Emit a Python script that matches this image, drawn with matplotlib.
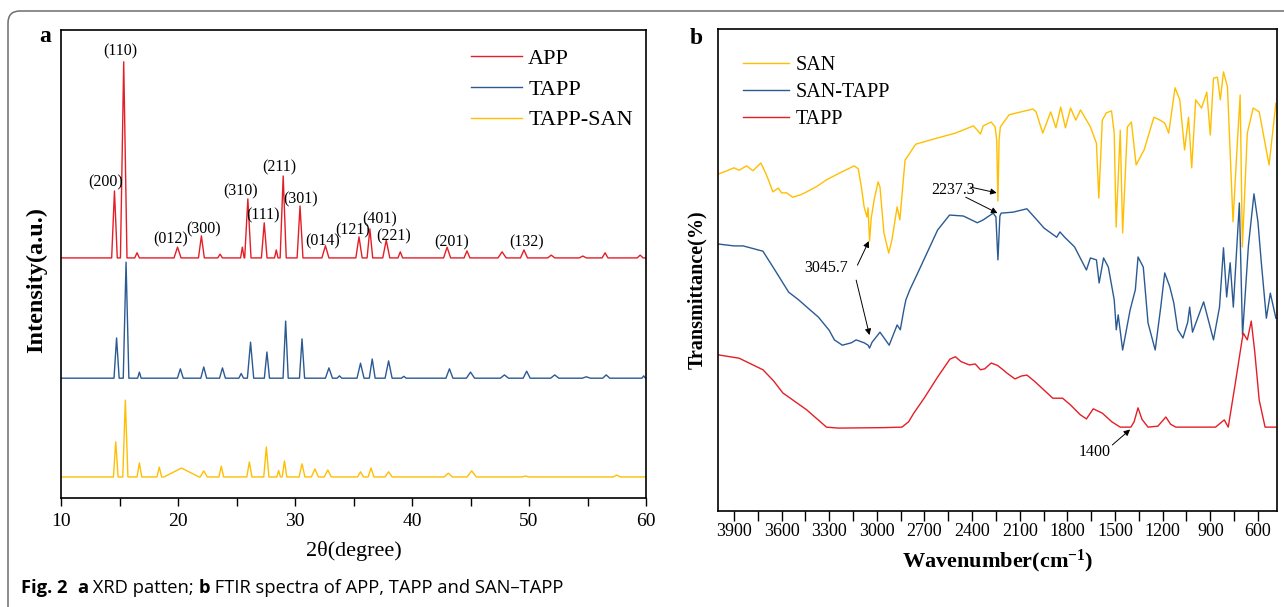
import numpy as np
import matplotlib
matplotlib.use('Agg')
import matplotlib.pyplot as plt
from matplotlib.ticker import MultipleLocator, NullLocator
from matplotlib.patches import FancyBboxPatch
from matplotlib.transforms import IdentityTransform

plt.rcParams['font.family'] = 'Liberation Serif'
plt.rcParams['mathtext.fontset'] = 'custom'
plt.rcParams['mathtext.rm'] = 'Liberation Serif'
plt.rcParams['mathtext.bf'] = 'Liberation Serif:bold'
plt.rcParams['mathtext.it'] = 'Liberation Serif:italic'

myred = '#E41E26'
myblue = '#2B5A92'
myyellow = '#FFBF00'

W, H = 1284, 607

# ---- XRD peaks: position (2theta), apex intensity (a.u.), half width at foot
app_base = 51.3
app_pos = [14.57, 15.36, 16.5, 19.96, 22.0, 23.6, 25.5, 25.97, 27.37, 28.4, 28.99, 30.43,
           32.6, 35.47, 36.4, 37.8, 39.0, 43.0, 44.7, 47.7, 49.57, 51.9, 54.6, 56.5, 59.5]
app_top = [65.6, 93.2, 52.4, 53.6, 56.0, 52.1, 53.6, 63.9, 58.8, 53.0, 68.8, 62.4,
           53.9, 55.8, 57.5, 55.1, 52.6, 53.6, 52.8, 52.6, 53.0, 51.9, 51.7, 52.4, 51.9]
app_hw = [0.24, 0.28, 0.2, 0.3, 0.25, 0.2, 0.15, 0.27, 0.24, 0.15, 0.26, 0.25,
          0.3, 0.27, 0.24, 0.3, 0.2, 0.3, 0.25, 0.35, 0.3, 0.3, 0.3, 0.25, 0.25]

tapp_base = 25.6
tapp_pos = [14.75, 15.56, 16.7, 20.2, 22.2, 23.8, 25.4, 26.2, 27.6, 29.2, 30.6, 32.9,
            33.8, 35.6, 36.6, 38.0, 39.3, 43.2, 45.0, 47.9, 49.8, 52.2, 54.9, 56.6, 59.8]
tapp_top = [34.2, 50.4, 26.9, 27.6, 28.0, 27.8, 26.6, 33.3, 31.2, 37.8, 34.0, 27.8,
            26.1, 28.8, 29.7, 29.3, 26.0, 27.6, 26.9, 26.3, 27.1, 26.3, 25.9, 26.3, 26.1]
tapp_hw = [0.22, 0.24, 0.15, 0.25, 0.25, 0.25, 0.2, 0.27, 0.22, 0.22, 0.22, 0.3,
           0.2, 0.3, 0.25, 0.3, 0.2, 0.3, 0.35, 0.35, 0.3, 0.35, 0.35, 0.3, 0.15]

tsan_base = 4.5
tsan_pos = [14.68, 15.5, 16.7, 18.4, 20.3, 22.2, 23.7, 26.1, 27.55, 28.6, 29.1, 30.6,
            31.7, 32.8, 35.6, 36.5, 38.0, 43.1, 45.1, 49.7, 57.5]
tsan_top = [12.0, 20.9, 7.5, 6.6, 6.4, 5.8, 6.8, 7.7, 10.9, 5.9, 7.9, 7.3,
            6.2, 6.0, 5.6, 6.4, 5.6, 5.3, 5.8, 4.7, 4.9]
tsan_hw = [0.2, 0.22, 0.2, 0.2, 1.5, 0.3, 0.2, 0.22, 0.22, 0.15, 0.2, 0.25,
           0.3, 0.3, 0.25, 0.25, 0.3, 0.35, 0.4, 0.3, 0.3]

hkl_text = ['(110)', '(200)', '(012)', '(300)', '(310)', '(111)', '(211)', '(301)',
            '(014)', '(121)', '(401)', '(221)', '(201)', '(132)']
hkl_x = [15.04, 13.85, 19.35, 22.16, 25.36, 27.27, 28.7, 30.5, 32.37, 34.95, 37.2, 38.4, 43.35, 49.75]
hkl_y = [95.5, 67.5, 55.3, 57.5, 65.6, 60.3, 70.7, 63.9, 54.9, 57.1, 59.6, 56.0, 54.7, 54.7]

# ---- FTIR spectra: wavenumber (cm-1), transmittance
san_wn = [4000, 3950, 3900, 3867, 3820, 3780, 3730, 3700, 3680, 3655, 3620, 3600, 3567, 3530,
          3480, 3442, 3380, 3317, 3230, 3142, 3117, 3097, 3080, 3062, 3055, 3045.7, 3035, 3017,
          2992, 2980, 2955, 2925, 2905, 2872, 2855, 2837, 2822, 2755, 2617, 2505, 2392, 2367,
          2347, 2330, 2280, 2255, 2245, 2237.3, 2230, 2222, 2167, 2017, 1997, 1955, 1905, 1872,
          1842, 1812, 1780, 1747, 1717, 1655, 1617, 1602, 1580, 1555, 1522, 1505, 1493, 1467,
          1452, 1422, 1397, 1367, 1317, 1255, 1217, 1187, 1162, 1122, 1092, 1062, 1037, 1017,
          992, 955, 922, 900, 880, 855, 837, 817, 792, 757, 730, 712, 698, 667, 630, 592, 530, 487]
san_t = [69.9, 70.5, 71.2, 70.7, 71.6, 70.6, 72.2, 70.1, 68.5, 66.2, 67.0, 66.0, 66.0, 65.1,
         65.6, 66.2, 67.3, 68.7, 70.2, 71.6, 71.0, 67.2, 63.1, 61.0, 62.9, 56.0, 60.8, 64.5,
         68.3, 67.2, 57.7, 53.5, 56.2, 63.1, 60.4, 67.2, 72.8, 76.1, 77.4, 78.4, 79.9, 79.0,
         78.2, 79.9, 80.7, 79.7, 77.0, 64.3, 77.0, 79.7, 82.2, 83.4, 82.8, 78.4, 82.8, 79.5,
         83.8, 79.5, 83.6, 81.1, 83.2, 79.7, 76.3, 64.9, 81.1, 82.6, 83.0, 78.4, 58.9, 79.0,
         57.7, 79.7, 80.7, 71.8, 74.9, 81.7, 81.1, 80.5, 78.4, 87.8, 85.3, 74.9, 81.7, 71.2,
         85.3, 83.6, 86.9, 78.0, 89.8, 90.0, 85.3, 91.1, 88.0, 60.0, 76.3, 86.3, 54.8, 78.4,
         83.6, 82.8, 71.8, 84.6]

santapp_wn = [4000, 3900, 3842, 3717, 3642, 3555, 3492, 3430, 3367, 3300, 3267, 3217, 3160,
              3130, 3080, 3055, 3045.7, 3030, 2980, 2922, 2872, 2852, 2830, 2817, 2792, 2742,
              2617, 2542, 2455, 2367, 2330, 2267, 2250, 2237.3, 2225, 2217, 2142, 2055, 1992,
              1947, 1905, 1867, 1847, 1817, 1755, 1680, 1655, 1617, 1600, 1572, 1542, 1505,
              1492, 1480, 1452, 1405, 1372, 1355, 1322, 1292, 1247, 1212, 1187, 1155, 1130,
              1105, 1072, 1042, 1030, 1012, 942, 880, 842, 817, 797, 775, 755, 717, 697, 660,
              625, 600, 580, 547, 522, 487]
santapp_t = [55.4, 55.0, 55.0, 53.9, 50.0, 45.4, 43.8, 42.0, 40.2, 37.5, 35.5, 34.4, 34.9,
             35.5, 34.9, 34.4, 33.8, 35.0, 37.1, 34.4, 38.6, 37.6, 41.7, 43.8, 45.9, 49.4,
             58.3, 61.4, 61.2, 59.8, 60.4, 61.8, 61.0, 52.1, 61.2, 61.8, 62.0, 62.7, 60.4,
             58.7, 57.7, 56.8, 57.9, 56.8, 54.8, 50.0, 52.5, 52.1, 47.3, 52.5, 50.6, 43.8,
             37.6, 40.7, 33.4, 41.7, 45.9, 52.7, 50.6, 39.0, 33.4, 42.3, 49.4, 46.5, 43.2,
             37.6, 35.9, 39.2, 42.3, 37.1, 43.4, 35.5, 42.3, 54.6, 44.4, 51.5, 42.3, 63.9,
             36.5, 55.0, 65.8, 60.0, 52.0, 40.0, 45.2, 40.0]

tappir_wn = [4000, 3867, 3717, 3650, 3592, 3442, 3317, 3242, 2950, 2842, 2800, 2767, 2700,
             2617, 2540, 2505, 2470, 2417, 2380, 2347, 2320, 2280, 2240, 2205, 2180, 2130,
             2090, 2055, 2010, 1967, 1892, 1830, 1780, 1720, 1680, 1637, 1580, 1520, 1467,
             1400, 1380, 1355, 1330, 1292, 1230, 1180, 1150, 1117, 1030, 867, 812, 787, 742,
             700, 692, 667, 642, 620, 592, 555, 487]
tappir_t = [32.4, 31.7, 29.3, 27.0, 24.5, 21.0, 17.4, 17.2, 17.3, 17.4, 18.5, 20.3, 23.5,
            27.8, 31.5, 32.0, 31.0, 30.3, 30.5, 29.3, 29.5, 30.7, 30.2, 29.3, 28.6, 27.4,
            28.0, 28.2, 27.0, 25.7, 23.4, 23.4, 22.0, 20.0, 19.1, 21.2, 20.3, 18.5, 17.4,
            17.4, 18.5, 21.4, 19.0, 17.4, 17.6, 19.5, 18.0, 17.4, 17.4, 17.4, 18.9, 17.4, 26.6,
            35.5, 36.9, 35.5, 39.4, 33.0, 23.0, 17.4, 17.4]


def pattern(base, pos, top, hw):
    x, y = [10.0], [base]
    for p, t, w in zip(pos, top, hw):
        x += [p - w, p, p + w]
        y += [base, t, base]
    x.append(60.0)
    y.append(base)
    return x, y


fig = plt.figure(figsize=(W / 100, H / 100), dpi=100)

# rounded frame around the whole figure
fig.patches.append(FancyBboxPatch((8, -40), 1400, 596 + 40,
                                  boxstyle='round,pad=0,rounding_size=12',
                                  transform=IdentityTransform(), fill=False,
                                  edgecolor='#6e6e6e', lw=1.1))

axa = fig.add_axes([61 / W, 1 - 498 / H, 585 / W, 468 / H])
axb = fig.add_axes([718 / W, 1 - 511 / H, 559 / W, 482 / H])

# ---------------- panel a : XRD
for base, pos, top, hw, c, lab in [(app_base, app_pos, app_top, app_hw, myred, 'APP'),
                                   (tapp_base, tapp_pos, tapp_top, tapp_hw, myblue, 'TAPP'),
                                   (tsan_base, tsan_pos, tsan_top, tsan_hw, myyellow, 'TAPP-SAN')]:
    x, y = pattern(base, pos, top, hw)
    axa.plot(x, y, color=c, lw=1.0, label=lab)

for t, x, y in zip(hkl_text, hkl_x, hkl_y):
    axa.text(x, y, t, fontsize=11.5, ha='center', va='center')

axa.set_xlim(10, 60)
axa.set_ylim(0, 100)
axa.xaxis.set_major_locator(MultipleLocator(10))
axa.xaxis.set_minor_locator(MultipleLocator(5))
axa.yaxis.set_major_locator(NullLocator())
axa.tick_params(axis='x', which='both', direction='out', length=6, width=1, labelsize=14, pad=5)
axa.set_xlabel('2θ(degree)', fontsize=16, labelpad=8)
axa.legend(loc='upper left', bbox_to_anchor=(0.70, 0.96), frameon=False, fontsize=16,
           handlelength=2.3, handletextpad=0.3, labelspacing=0.45, borderpad=0, borderaxespad=0)

# ---------------- panel b : FTIR
axb.plot(san_wn, san_t, color=myyellow, lw=1.0, label='SAN')
axb.plot(santapp_wn, santapp_t, color=myblue, lw=1.0, label='SAN-TAPP')
axb.plot(tappir_wn, tappir_t, color=myred, lw=1.0, label='TAPP')

axb.set_xlim(4000, 480)
axb.set_ylim(0, 100)
axb.set_xticks([3900, 3600, 3300, 3000, 2700, 2400, 2100, 1800, 1500, 1200, 900, 600])
axb.xaxis.set_minor_locator(MultipleLocator(150))
axb.yaxis.set_major_locator(NullLocator())
axb.tick_params(axis='x', which='both', direction='out', length=7, width=1, labelsize=13, pad=2)
axb.set_xlabel(r'Wavenumber(cm$^{\mathbf{-1}}$)', fontsize=16, fontweight='bold', labelpad=5)
axb.legend(loc='upper left', bbox_to_anchor=(0.045, 0.945), frameon=False, fontsize=14.5,
           handlelength=2.3, handletextpad=0.3, labelspacing=0.4, borderpad=0, borderaxespad=0)

arw = dict(arrowstyle='-|>', color='black', lw=0.7, mutation_scale=9, shrinkA=0, shrinkB=0)
axb.text(2522, 66.6, '2237.3', fontsize=11.5, ha='center', va='center')
axb.annotate('', xy=(2245, 66.0), xytext=(2410, 67.2), arrowprops=arw)
axb.annotate('', xy=(2240, 61.8), xytext=(2440, 65.1), arrowprops=arw)
axb.text(3322, 50.4, '3045.7', fontsize=11.5, ha='center', va='center')
axb.annotate('', xy=(3050, 56.0), xytext=(3122, 51.0), arrowprops=arw)
axb.annotate('', xy=(3046, 36.5), xytext=(3130, 47.9), arrowprops=arw)
axb.text(1630, 12.2, '1400', fontsize=11.5, ha='center', va='center')
axb.annotate('', xy=(1405, 16.9), xytext=(1517, 13.7), arrowprops=arw)

for ax in (axa, axb):
    for s in ax.spines.values():
        s.set_linewidth(1.2)

# panel letters and axis titles
fig.text(45 / W, 1 - 37 / H, 'a', fontsize=17, fontweight='bold', ha='center', va='center')
fig.text(696 / W, 1 - 39 / H, 'b', fontsize=17, fontweight='bold', ha='center', va='center')
fig.text(37 / W, 1 - 280 / H, 'Intensity(a.u.)', fontsize=17.5, fontweight='bold',
         rotation=90, ha='center', va='center')
fig.text(697 / W, 1 - 290 / H, 'Transmittance(%)', fontsize=14.5, fontweight='bold',
         rotation=90, ha='center', va='center')

# caption, written piece by piece so bold and regular runs sit on one line
caption = [('Fig. 2', 'bold'), ('  ', 'normal'), ('a', 'bold'), (' XRD patten; ', 'normal'),
           ('b', 'bold'), (' FTIR spectra of APP, TAPP and SAN–TAPP', 'normal')]
renderer = fig.canvas.get_renderer()
xpos = 21
for txt, wt in caption:
    t = fig.text(xpos / W, 1 - 588 / H, txt, family='Open Sans', fontsize=13.2, fontweight=wt,
                 ha='left', va='center')
    xpos += t.get_window_extent(renderer).width

fig.savefig('out.png', dpi=100)
